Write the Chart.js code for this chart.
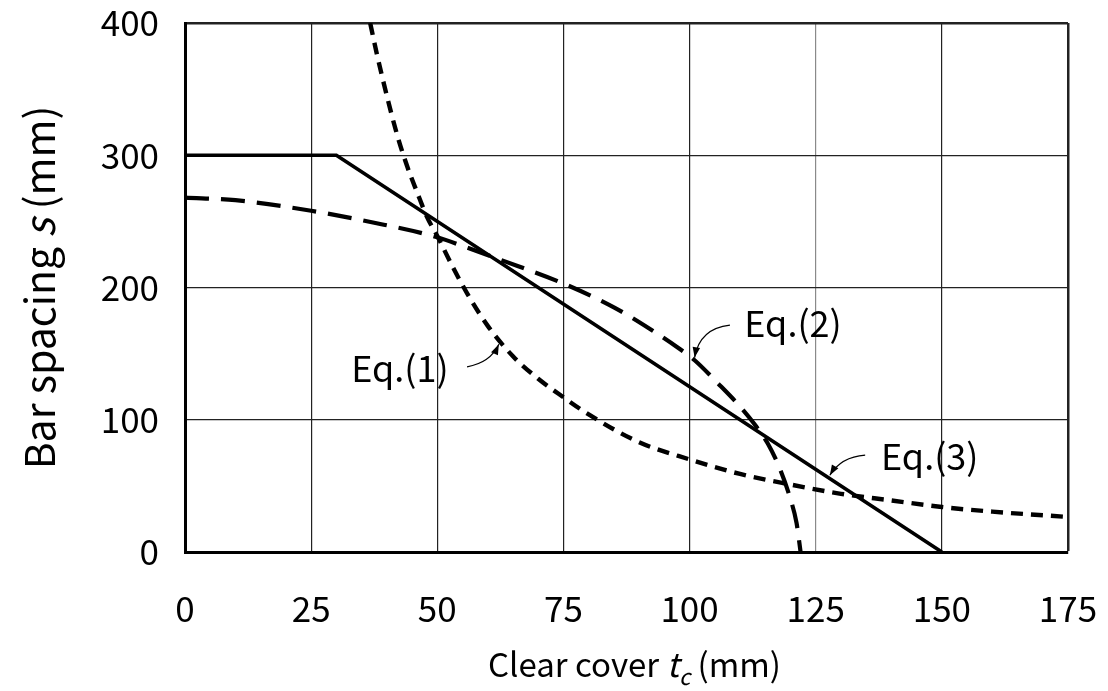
<!DOCTYPE html>
<html>
<head>
<meta charset="utf-8">
<title>Bar spacing vs clear cover</title>
<script src="https://cdn.jsdelivr.net/npm/chart.js@4.4.0/dist/chart.umd.min.js"></script>
<style>
    html, body { margin: 0; padding: 0; background: #fff; }
    #wrap { width: 1108px; height: 691px; }
</style>
</head>
<body>
<div id="wrap"><canvas id="cover-chart"></canvas></div>
<script>

// tick values
var xTicks = [0, 25, 50, 75, 100, 125, 150, 175];
var yTicks = [0, 100, 200, 300, 400];

// Eq.(3) - solid limit line
var eq3T = [0, 30, 150];
var eq3S = [300, 300, 0];

// Eq.(1) - short dashes
var eq1T = [36.7, 38, 40, 42, 44, 46, 48, 50, 53, 56, 60, 65, 70, 75, 80, 90, 100, 110, 120, 130, 140, 150, 160, 175];
var eq1S = [400, 377, 345, 316, 292, 272, 253, 239, 216, 195, 171, 148, 131, 117, 104, 83, 70, 59, 51, 44, 39, 34, 30.5, 26.5];

// Eq.(2) - long dashes
var eq2T = [0, 10, 25, 37.5, 50, 56, 62.5, 75, 85, 92, 97.5, 101, 105.5, 110, 113, 115.5, 118, 120, 121.2, 122];
var eq2S = [268, 266, 258, 249, 238, 230, 221, 203, 185, 169, 155, 145, 128, 110, 96, 82, 62, 40, 22, 0];

var eqNames = ['Eq.(1)', 'Eq.(2)', 'Eq.(3)'];

var FONT = "'Noto Sans CJK JP', 'Noto Sans', sans-serif";

function toPoints(ts, ss) {
    var pts = [];
    for (var i = 0; i < ts.length; i++) {
        pts.push({ x: ts[i], y: ss[i] });
    }
    return pts;
}

// where the labels sit and where their little arrows point (data units)
var notes = [
    { text: eqNames[0], at: [42.6, 139], from: [55.9, 140], bend: [60.5, 143], to: [62.2, 157] },
    { text: eqNames[1], at: [120.5, 173], from: [108, 171.5], bend: [102, 169], to: [101, 147] },
    { text: eqNames[2], at: [147.6, 72.6], from: [134.8, 73.3], bend: [130, 72], to: [127.8, 58] }
];

var labelsPlugin = {
    id: 'labelsPlugin',
    afterDatasetsDraw: function (chart) {
        var ctx = chart.ctx;
        var xs = chart.scales.x, ys = chart.scales.y;
        ctx.save();
        ctx.fillStyle = '#000';
        ctx.strokeStyle = '#000';

        for (var i = 0; i < notes.length; i++) {
            var n = notes[i];
            ctx.font = '36px ' + FONT;
            ctx.textAlign = 'center';
            ctx.textBaseline = 'middle';
            ctx.fillText(n.text, xs.getPixelForValue(n.at[0]), ys.getPixelForValue(n.at[1]));

            var x0 = xs.getPixelForValue(n.from[0]), y0 = ys.getPixelForValue(n.from[1]);
            var cx = xs.getPixelForValue(n.bend[0]), cy = ys.getPixelForValue(n.bend[1]);
            var x1 = xs.getPixelForValue(n.to[0]), y1 = ys.getPixelForValue(n.to[1]);
            ctx.lineWidth = 1.2;
            ctx.beginPath();
            ctx.moveTo(x0, y0);
            ctx.quadraticCurveTo(cx, cy, x1, y1);
            ctx.stroke();
            // arrow head
            var a = Math.atan2(y1 - cy, x1 - cx);
            ctx.beginPath();
            ctx.moveTo(x1, y1);
            ctx.lineTo(x1 - 11 * Math.cos(a - 0.35), y1 - 11 * Math.sin(a - 0.35));
            ctx.lineTo(x1 - 11 * Math.cos(a + 0.35), y1 - 11 * Math.sin(a + 0.35));
            ctx.closePath();
            ctx.fill();
        }

        // axis titles, drawn by hand for the italic parts
        var area = chart.chartArea;
        var parts, w, px;

        // y title
        parts = [['Bar spacing ', ''], ['s', 'italic '], [' (mm)', '']];
        ctx.textAlign = 'left';
        ctx.textBaseline = 'alphabetic';
        w = 0;
        for (var j = 0; j < parts.length; j++) {
            ctx.font = parts[j][1] + '41px ' + FONT;
            w += ctx.measureText(parts[j][0]).width;
        }
        ctx.translate(55, (area.top + area.bottom) / 2);
        ctx.rotate(-Math.PI / 2);
        px = -w / 2;
        for (var j = 0; j < parts.length; j++) {
            ctx.font = parts[j][1] + '41px ' + FONT;
            ctx.fillText(parts[j][0], px, 0);
            px += ctx.measureText(parts[j][0]).width;
        }
        ctx.setTransform(1, 0, 0, 1, 0, 0);

        // x title
        parts = [['Clear cover ', '', 33, 0], ['t', 'italic ', 33, 0], ['c', 'italic ', 22, 8], [' (mm)', '', 33, 0]];
        w = 0;
        for (var j = 0; j < parts.length; j++) {
            ctx.font = parts[j][1] + parts[j][2] + 'px ' + FONT;
            w += ctx.measureText(parts[j][0]).width;
        }
        px = (area.left + area.right) / 2 - w / 2 + 8;
        for (var j = 0; j < parts.length; j++) {
            ctx.font = parts[j][1] + parts[j][2] + 'px ' + FONT;
            ctx.fillText(parts[j][0], px, 677 + parts[j][3]);
            px += ctx.measureText(parts[j][0]).width;
        }
        ctx.restore();
    }
};

var ctxCover = document.getElementById('cover-chart').getContext('2d');

var coverChart = new Chart(ctxCover, {
    type: 'line',
    data: {
        datasets: [
            {
                label: eqNames[2],
                data: toPoints(eq3T, eq3S),
                borderColor: '#000',
                borderWidth: 3.6,
                pointRadius: 0,
                tension: 0
            },
            {
                label: eqNames[1],
                data: toPoints(eq2T, eq2S),
                borderColor: '#000',
                borderWidth: 4.2,
                borderDash: [24, 12],
                borderCapStyle: 'butt',
                pointRadius: 0,
                cubicInterpolationMode: 'monotone'
            },
            {
                label: eqNames[0],
                data: toPoints(eq1T, eq1S),
                borderColor: '#000',
                borderWidth: 4.4,
                borderDash: [12, 8],
                borderCapStyle: 'butt',
                pointRadius: 0,
                cubicInterpolationMode: 'monotone'
            }
        ]
    },
    options: {
        responsive: true,
        maintainAspectRatio: false,
        animation: false,
        layout: {
            padding: { top: 23, right: 40, left: 0, bottom: 0 }
        },
        plugins: {
            legend: { display: false },
            tooltip: { enabled: false }
        },
        scales: {
            x: {
                type: 'linear',
                min: 0,
                max: 175,
                afterFit: function (scale) { scale.height = 139; },
                afterBuildTicks: function (scale) {
                    scale.ticks = xTicks.map(function (v) { return { value: v }; });
                },
                ticks: {
                    color: '#000',
                    padding: 2,
                    maxRotation: 0,
                    font: { size: 35, family: FONT }
                },
                grid: {
                    drawTicks: true,
                    tickLength: 34,
                    tickColor: 'rgba(0,0,0,0)',
                    color: function (c) { return c.tick && c.tick.value === 125 ? '#8a8a8a' : '#222'; },
                    lineWidth: function (c) { return c.tick && c.tick.value === 175 ? 2.5 : 1.2; }
                },
                border: { color: '#000', width: 3 }
            },
            y: {
                type: 'linear',
                min: 0,
                max: 400,
                afterFit: function (scale) { scale.width = 185; },
                afterBuildTicks: function (scale) {
                    scale.ticks = yTicks.map(function (v) { return { value: v }; });
                },
                ticks: {
                    color: '#000',
                    padding: 2,
                    font: { size: 35, family: FONT }
                },
                grid: {
                    drawTicks: true,
                    tickLength: 24,
                    tickColor: 'rgba(0,0,0,0)',
                    color: '#222',
                    lineWidth: function (c) { return c.tick && c.tick.value === 400 ? 2.5 : 1.2; }
                },
                border: { color: '#000', width: 3 }
            }
        }
    },
    plugins: [labelsPlugin]
});

</script>
</body>
</html>
